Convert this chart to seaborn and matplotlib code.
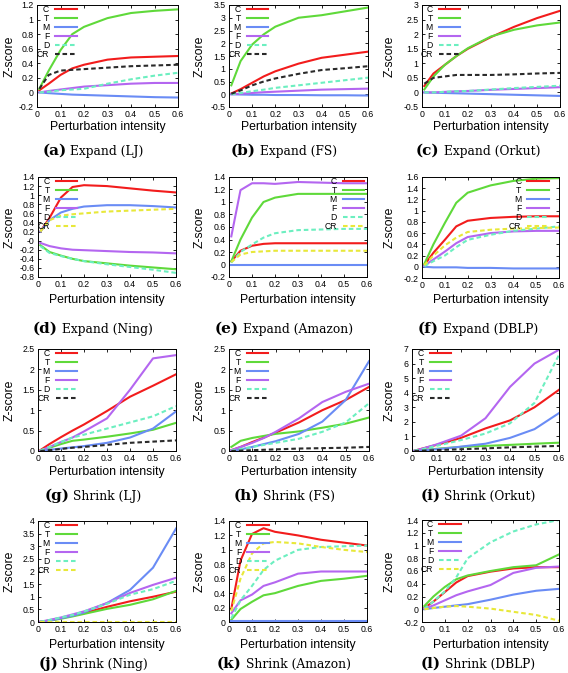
import numpy as np
import pandas as pd
import matplotlib
matplotlib.use("Agg")
import matplotlib.pyplot as plt
import seaborn as sns
from matplotlib.ticker import FixedLocator, FuncFormatter

# ---------------- data ----------------
X = [0.01, 0.05, 0.1, 0.15, 0.2, 0.3, 0.4, 0.5, 0.6]
SERIES = ["C", "T", "M", "F", "D", "CR"]

# (a) Expand (LJ)
a_C = [0.03, 0.12, 0.24, 0.33, 0.38, 0.45, 0.48, 0.49, 0.50]
a_T = [0.05, 0.30, 0.58, 0.80, 0.90, 1.02, 1.09, 1.12, 1.14]
a_M = [0.00, -0.01, -0.02, -0.03, -0.035, -0.045, -0.055, -0.065, -0.07]
a_F = [0.00, 0.02, 0.04, 0.06, 0.08, 0.10, 0.12, 0.13, 0.13]
a_D = [0.00, 0.01, 0.03, 0.04, 0.05, 0.12, 0.18, 0.23, 0.27]
a_CR = [0.05, 0.24, 0.30, 0.31, 0.32, 0.34, 0.36, 0.37, 0.38]
# (b) Expand (FS)
b_C = [0.03, 0.20, 0.45, 0.70, 0.90, 1.20, 1.43, 1.55, 1.67]
b_T = [0.35, 1.30, 1.95, 2.35, 2.65, 3.00, 3.10, 3.25, 3.40]
b_M = [0.00, -0.01, -0.02, -0.02, -0.03, -0.03, -0.04, -0.04, -0.05]
b_F = [0.00, 0.02, 0.05, 0.08, 0.10, 0.14, 0.18, 0.20, 0.22]
b_D = [0.00, 0.05, 0.12, 0.18, 0.25, 0.35, 0.45, 0.55, 0.65]
b_CR = [0.02, 0.15, 0.35, 0.50, 0.62, 0.80, 0.95, 1.02, 1.10]
# (c) Expand (Orkut)
c_C = [0.22, 0.65, 0.95, 1.25, 1.50, 1.90, 2.25, 2.55, 2.80]
c_T = [0.10, 0.55, 0.95, 1.25, 1.52, 1.92, 2.15, 2.30, 2.40]
c_M = [0.00, -0.01, -0.02, -0.03, -0.04, -0.06, -0.08, -0.10, -0.12]
c_F = [0.00, 0.00, 0.02, 0.04, 0.05, 0.09, 0.12, 0.15, 0.18]
c_D = [0.00, 0.00, 0.02, 0.04, 0.05, 0.10, 0.15, 0.19, 0.23]
c_CR = [0.30, 0.50, 0.55, 0.60, 0.60, 0.60, 0.62, 0.65, 0.67]
# (d) Expand (Ning)
d_C = [0.20, 0.50, 0.95, 1.18, 1.22, 1.20, 1.15, 1.10, 1.06]
d_T = [-0.10, -0.25, -0.33, -0.40, -0.45, -0.50, -0.55, -0.59, -0.63]
d_M = [0.20, 0.45, 0.62, 0.70, 0.75, 0.78, 0.78, 0.76, 0.73]
d_F = [-0.05, -0.12, -0.17, -0.20, -0.21, -0.23, -0.25, -0.26, -0.28]
d_D = [-0.12, -0.27, -0.34, -0.40, -0.45, -0.52, -0.58, -0.64, -0.71]
d_CR = [0.20, 0.45, 0.55, 0.58, 0.60, 0.64, 0.66, 0.68, 0.70]
# (e) Expand (Amazon)
e_C = [0.05, 0.22, 0.30, 0.33, 0.34, 0.34, 0.34, 0.34, 0.34]
e_T = [0.05, 0.40, 0.75, 1.00, 1.07, 1.13, 1.13, 1.13, 1.13]
e_M = [0.00, 0.00, 0.00, 0.00, 0.00, 0.00, 0.00, 0.00, 0.00]
e_F = [0.45, 1.19, 1.30, 1.30, 1.29, 1.32, 1.31, 1.30, 1.30]
e_D = [0.03, 0.20, 0.32, 0.43, 0.50, 0.55, 0.56, 0.57, 0.57]
e_CR = [0.04, 0.16, 0.20, 0.21, 0.22, 0.22, 0.22, 0.22, 0.22]
# (f) Expand (DBLP)
f_C = [0.03, 0.25, 0.48, 0.72, 0.82, 0.87, 0.89, 0.90, 0.90]
f_T = [0.05, 0.40, 0.78, 1.14, 1.32, 1.45, 1.53, 1.57, 1.58]
f_M = [0.00, -0.01, -0.01, -0.01, -0.02, -0.02, -0.03, -0.03, -0.03]
f_F = [0.02, 0.13, 0.27, 0.42, 0.53, 0.60, 0.63, 0.64, 0.64]
f_D = [0.01, 0.10, 0.20, 0.35, 0.48, 0.57, 0.64, 0.68, 0.72]
f_CR = [0.03, 0.20, 0.38, 0.52, 0.62, 0.66, 0.68, 0.69, 0.70]
# (g) Shrink (LJ)
g_C = [0.02, 0.17, 0.34, 0.50, 0.65, 0.98, 1.33, 1.60, 1.88]
g_T = [0.01, 0.08, 0.17, 0.25, 0.28, 0.35, 0.43, 0.52, 0.69]
g_M = [0.00, 0.03, 0.06, 0.09, 0.12, 0.20, 0.33, 0.55, 0.97]
g_F = [0.01, 0.10, 0.22, 0.33, 0.48, 0.80, 1.50, 2.27, 2.35]
g_D = [0.01, 0.10, 0.22, 0.33, 0.40, 0.55, 0.70, 0.85, 1.10]
g_CR = [0.00, 0.02, 0.05, 0.08, 0.10, 0.15, 0.20, 0.23, 0.26]
# (h) Shrink (FS)
h_C = [0.02, 0.10, 0.22, 0.33, 0.45, 0.70, 1.00, 1.25, 1.57]
h_T = [0.10, 0.25, 0.32, 0.37, 0.42, 0.48, 0.57, 0.67, 0.82]
h_M = [0.00, 0.04, 0.10, 0.17, 0.24, 0.42, 0.72, 1.25, 2.20]
h_F = [0.02, 0.10, 0.20, 0.32, 0.47, 0.80, 1.20, 1.45, 1.65]
h_D = [0.01, 0.05, 0.10, 0.15, 0.20, 0.30, 0.47, 0.70, 1.17]
h_CR = [0.00, 0.01, 0.02, 0.03, 0.04, 0.06, 0.07, 0.08, 0.10]
# (i) Shrink (Orkut)
i_C = [0.02, 0.20, 0.42, 0.65, 0.90, 1.55, 2.10, 3.00, 4.20]
i_T = [0.01, 0.08, 0.15, 0.22, 0.28, 0.35, 0.42, 0.50, 0.57]
i_M = [0.01, 0.06, 0.12, 0.20, 0.30, 0.50, 0.90, 1.50, 2.60]
i_F = [0.02, 0.20, 0.45, 0.75, 1.05, 2.25, 4.40, 6.00, 6.95]
i_D = [0.02, 0.15, 0.35, 0.55, 0.75, 1.20, 1.90, 3.30, 6.60]
i_CR = [0.00, 0.03, 0.06, 0.09, 0.12, 0.18, 0.25, 0.30, 0.35]
# (j) Shrink (Ning)
j_C = [0.01, 0.06, 0.15, 0.25, 0.35, 0.60, 0.82, 1.00, 1.20]
j_T = [0.01, 0.05, 0.13, 0.22, 0.32, 0.52, 0.68, 0.90, 1.23]
j_M = [0.00, 0.06, 0.15, 0.25, 0.38, 0.75, 1.27, 2.15, 3.70]
j_F = [0.01, 0.08, 0.18, 0.30, 0.42, 0.75, 1.15, 1.47, 1.75]
j_D = [0.01, 0.08, 0.18, 0.28, 0.42, 0.72, 1.08, 1.30, 1.63]
j_CR = [0.00, 0.00, 0.00, 0.00, 0.00, 0.00, 0.00, 0.00, 0.00]
# (k) Shrink (Amazon)
k_C = [0.18, 0.85, 1.22, 1.30, 1.25, 1.20, 1.14, 1.10, 1.06]
k_T = [0.03, 0.18, 0.28, 0.37, 0.40, 0.50, 0.57, 0.60, 0.64]
k_M = [0.01, 0.01, 0.01, 0.01, 0.01, 0.01, 0.01, 0.01, 0.01]
k_F = [0.12, 0.30, 0.38, 0.50, 0.55, 0.67, 0.70, 0.70, 0.70]
k_D = [0.05, 0.30, 0.50, 0.72, 0.85, 1.00, 1.04, 1.05, 1.06]
k_CR = [0.15, 0.60, 0.95, 1.09, 1.11, 1.09, 1.04, 1.00, 0.97]
# (l) Shrink (DBLP)
l_C = [0.02, 0.12, 0.27, 0.42, 0.52, 0.59, 0.64, 0.66, 0.66]
l_T = [0.05, 0.20, 0.35, 0.47, 0.53, 0.60, 0.66, 0.69, 0.86]
l_M = [0.00, 0.02, 0.04, 0.06, 0.08, 0.15, 0.23, 0.29, 0.32]
l_F = [0.01, 0.06, 0.14, 0.22, 0.28, 0.38, 0.57, 0.65, 0.67]
l_D = [0.01, 0.12, 0.28, 0.50, 0.80, 1.05, 1.22, 1.33, 1.40]
l_CR = [0.00, 0.02, 0.04, 0.05, 0.04, 0.01, -0.04, -0.09, -0.18]

LETTERS = ["(a)", "(b)", "(c)", "(d)", "(e)", "(f)", "(g)", "(h)", "(i)", "(j)", "(k)", "(l)"]
CAPTIONS = ["Expand (LJ)", "Expand (FS)", "Expand (Orkut)",
            "Expand (Ning)", "Expand (Amazon)", "Expand (DBLP)",
            "Shrink (LJ)", "Shrink (FS)", "Shrink (Orkut)",
            "Shrink (Ning)", "Shrink (Amazon)", "Shrink (DBLP)"]
Y_MIN = [-0.2, -0.5, -0.5, -0.8, -0.2, -0.2, 0, 0, 0, 0, 0, -0.2]
Y_MAX = [1.2, 3.5, 3.0, 1.4, 1.4, 1.6, 2.5, 2.5, 7, 4, 1.4, 1.4]
Y_STEP = [0.2, 0.5, 0.5, 0.2, 0.2, 0.2, 0.5, 0.5, 1, 0.5, 0.2, 0.2]
X_TICKS = [0, 0.1, 0.2, 0.3, 0.4, 0.5, 0.6]

PANELS = [
    [a_C, a_T, a_M, a_F, a_D, a_CR], [b_C, b_T, b_M, b_F, b_D, b_CR],
    [c_C, c_T, c_M, c_F, c_D, c_CR], [d_C, d_T, d_M, d_F, d_D, d_CR],
    [e_C, e_T, e_M, e_F, e_D, e_CR], [f_C, f_T, f_M, f_F, f_D, f_CR],
    [g_C, g_T, g_M, g_F, g_D, g_CR], [h_C, h_T, h_M, h_F, h_D, h_CR],
    [i_C, i_T, i_M, i_F, i_D, i_CR], [j_C, j_T, j_M, j_F, j_D, j_CR],
    [k_C, k_T, k_M, k_F, k_D, k_CR], [l_C, l_T, l_M, l_F, l_D, l_CR],
]
CR_YELLOW = [False, False, False, True, True, True, False, False, False, True, True, True]

# ---------------- style / layout ----------------
W, H = 568, 673
plt.rcParams["font.family"] = ["Liberation Sans", "DejaVu Sans"]
COLORS = {"C": "#f21c1c", "T": "#5fd93a", "M": "#6a8cf5", "F": "#b466f0",
          "D": "#6cefc0", "CR": "#2a2a2a"}
YELLOW = "#e8e83a"
DASH = (0, (2.2, 1.4))

# (left, right, top, bottom) in pixels
BOXES = [(37, 178, 5, 107), (229, 368, 5, 107), (422, 560, 5, 107),
         (38, 176, 177, 277), (229, 367, 177, 277), (422, 559, 177, 278),
         (38, 176, 349, 451), (229, 369, 349, 451), (412, 559, 349, 451),
         (38, 176, 521, 622), (229, 367, 521, 622), (422, 559, 520, 622)]
YLAB_X = [9.5, 200, 390]
XLAB_Y = [127, 300, 472, 645]
CAP_Y = [155, 333, 500, 668]
CAP_X = [93, 284, 478]
LEG_RIGHT = [0.284, 0.285, 0.28, 0.287, 0.985, 0.93, 0.287, 0.285, 0.27, 0.287, 0.29, 0.285]

fig = plt.figure(figsize=(W / 100, H / 100), dpi=100)
fmt = FuncFormatter(lambda v, p: f"{round(v, 3):g}")
caps = []

for idx, vals in enumerate(PANELS):
    l, r, t, b = BOXES[idx]
    ax = fig.add_axes([l / W, 1 - b / H, (r - l) / W, (b - t) / H])
    handles = []
    for name, ys in zip(SERIES, vals):
        col = COLORS[name]
        if name == "CR" and CR_YELLOW[idx]:
            col = YELLOW
        ls = DASH if name in ("D", "CR") else "-"
        df = pd.DataFrame({"x": X, "y": ys})
        sns.lineplot(data=df, x="x", y="y", ax=ax, color=col, linewidth=1.5,
                     linestyle=ls, errorbar=None, legend=False)
        handles.append(ax.lines[-1])
    ax.set_xlim(0, 0.6)
    ax.set_ylim(Y_MIN[idx], Y_MAX[idx])
    yt = np.round(np.arange(Y_MIN[idx], Y_MAX[idx] + Y_STEP[idx] / 2, Y_STEP[idx]), 3)
    ax.yaxis.set_major_locator(FixedLocator(yt))
    ax.xaxis.set_major_locator(FixedLocator(X_TICKS))
    ax.xaxis.set_major_formatter(fmt)
    ax.yaxis.set_major_formatter(fmt)
    ax.tick_params(direction="in", top=True, right=True, length=2.5, width=0.6,
                   labelsize=6.3, pad=2.5)
    for s in ax.spines.values():
        s.set_linewidth(0.7)
    ax.set_xlabel("Perturbation intensity", fontsize=8.8)
    ax.set_ylabel("Z-score", fontsize=8.8)
    row, colx = idx // 3, idx % 3
    ax.xaxis.label.set_va("center")
    ax.xaxis.set_label_coords(0.5, (b - XLAB_Y[row]) / (b - t))
    ax.yaxis.label.set_va("center")
    ax.yaxis.set_label_coords((YLAB_X[colx] - l) / (r - l), 0.5)
    ax.legend(handles, SERIES, loc="upper right", bbox_to_anchor=(LEG_RIGHT[idx], 1.0),
              markerfirst=False, frameon=False, fontsize=6.2, handlelength=2.5,
              handletextpad=0.7, labelspacing=0.0, borderpad=0.05, borderaxespad=0)
    t1 = fig.text(0, 1 - CAP_Y[row] / H, LETTERS[idx], family="DejaVu Serif",
                  weight="bold", fontsize=11, va="baseline", ha="left")
    t2 = fig.text(0, 1 - CAP_Y[row] / H, CAPTIONS[idx], family="DejaVu Serif",
                  fontsize=8.8, va="baseline", ha="left")
    caps.append((t1, t2, CAP_X[colx], CAP_Y[row]))

fig.canvas.draw()
rend = fig.canvas.get_renderer()
for t1, t2, cx, cy in caps:
    w1 = t1.get_window_extent(rend).width
    w2 = t2.get_window_extent(rend).width
    gap = 4
    left = cx - (w1 + gap + w2) / 2
    t1.set_position((left / W, 1 - cy / H))
    t2.set_position(((left + w1 + gap) / W, 1 - cy / H))

fig.savefig("out.png", dpi=100)
